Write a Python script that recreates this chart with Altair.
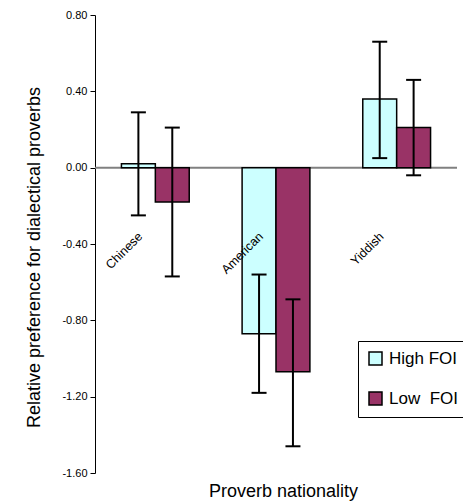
import altair as alt
import pandas as pd

categories = ["Chinese", "American", "Yiddish"]
groups = ["High FOI", "Low FOI"]
high_means = [0.02, -0.87, 0.36]
low_means = [-0.18, -1.07, 0.21]
high_lo = [-0.25, -1.18, 0.05]
high_hi = [0.29, -0.56, 0.66]
low_lo = [-0.57, -1.46, -0.04]
low_hi = [0.21, -0.69, 0.46]
y_ticks = [0.8, 0.4, 0.0, -0.4, -0.8, -1.2, -1.6]
colors = ["#CCFFFF", "#993366"]
label_y = -0.35

rows = []
for i, c in enumerate(categories):
    rows.append({"category": c, "group": groups[0], "mean": high_means[i], "lo": high_lo[i], "hi": high_hi[i]})
    rows.append({"category": c, "group": groups[1], "mean": low_means[i], "lo": low_lo[i], "hi": low_hi[i]})
df = pd.DataFrame(rows)
labels_df = pd.DataFrame({"category": categories})
zero_df = pd.DataFrame({"zero": [0.0]})

FONT = "Liberation Sans"

x_enc = alt.X(
    "category:N", sort=categories,
    scale=alt.Scale(paddingInner=0, paddingOuter=0),
    axis=alt.Axis(title="Proverb nationality", labels=False, ticks=False, domain=False,
                  titleFontSize=18, titleFont=FONT, titleFontWeight="normal", titleColor="black",
                  titleX=188, titleY=23, titleBaseline="alphabetic"),
)
xoff_enc = alt.XOffset("group:N", sort=groups, scale=alt.Scale(paddingOuter=0.78, paddingInner=0))
y_scale = alt.Scale(domain=[-1.6, 0.8], nice=False, zero=False)
y_enc = alt.Y(
    "mean:Q", scale=y_scale,
    axis=alt.Axis(values=y_ticks, grid=False,
                  labelExpr="replace(format(datum.value, '.2f'), '\u2212', '-')",
                  labelFontSize=11, labelFont=FONT, labelColor="black", labelPadding=3,
                  tickSize=5, tickColor="black", domainColor="black",
                  title="Relative preference for dialectical proverbs",
                  titleFontSize=18, titleFont=FONT, titleFontWeight="normal", titleColor="black",
                  titleX=-61, titleY=242, titleBaseline="middle"),
)
color_enc = alt.Color(
    "group:N", sort=groups,
    scale=alt.Scale(domain=groups, range=colors),
    legend=alt.Legend(title=None, orient="none", legendX=263, legendY=326,
                      strokeColor="black", fillColor="white", padding=9,
                      symbolType="square", symbolSize=169, symbolStrokeColor="black",
                      symbolStrokeWidth=1.5, symbolOpacity=1,
                      labelFontSize=17, labelFont=FONT, labelColor="black", labelOffset=5,
                      rowPadding=21,
                      labelExpr="datum.label == 'Low FOI' ? 'Low\u00a0\u00a0FOI' : datum.label"),
)

zero_rule = alt.Chart(zero_df).mark_rule(color="#808080", strokeWidth=2).encode(
    y=alt.Y("zero:Q", scale=y_scale)
)

bars = alt.Chart(df).mark_bar(stroke="black", strokeWidth=1.5).encode(
    x=x_enc, xOffset=xoff_enc, y=y_enc, y2=alt.datum(0), color=color_enc
)

err = alt.Chart(df).mark_rule(color="black", strokeWidth=2).encode(
    x=x_enc, xOffset=xoff_enc, y=alt.Y("lo:Q", scale=y_scale), y2="hi:Q"
)

caps = alt.Chart(df).transform_fold(["lo", "hi"], as_=["end", "val"]).mark_tick(
    color="black", thickness=2, size=15, orient="horizontal", opacity=1
).encode(x=x_enc, xOffset=xoff_enc, y=alt.Y("val:Q", scale=y_scale))

texts = alt.Chart(labels_df).mark_text(
    angle=315, align="right", baseline="middle", fontSize=12.5, font=FONT,
    color="black", dx=-10.6, dy=-10.6
).encode(x=x_enc, y=alt.datum(label_y), text="category:N")

chart = alt.layer(zero_rule, bars, err, caps, texts).properties(
    width=362, height=458,
    autosize="none",
    padding={"left": 87, "top": 7, "right": 6, "bottom": 28},
).configure_view(stroke=None)

chart.save("out.html", embed_options={"renderer": "svg", "actions": False})
